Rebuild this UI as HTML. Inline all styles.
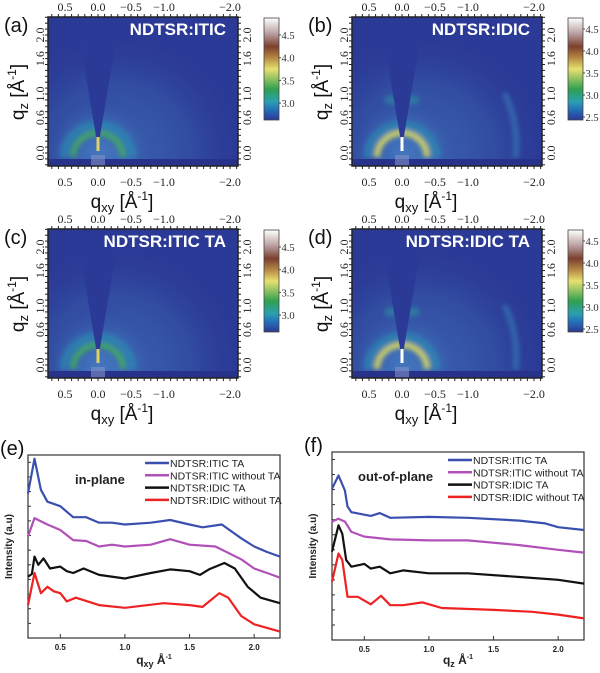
<!DOCTYPE html>
<html><head><meta charset="utf-8">
<style>
body{margin:0;background:#fff;width:600px;height:673px;overflow:hidden}
svg{display:block}
text{font-family:"Liberation Sans",sans-serif}
.ser{font-family:"Liberation Serif",serif}
</style></head>
<body>
<svg id="fig" width="600" height="673" viewBox="0 0 600 673" xmlns="http://www.w3.org/2000/svg">
<defs>
<linearGradient id="cb" x1="0" y1="1" x2="0" y2="0">
<stop offset="0" stop-color="#2b3896"/><stop offset="0.1" stop-color="#2470b8"/><stop offset="0.18" stop-color="#2aa0b0"/>
<stop offset="0.3" stop-color="#2fa050"/><stop offset="0.5" stop-color="#e8e070"/><stop offset="0.62" stop-color="#b08040"/>
<stop offset="0.72" stop-color="#7a4030"/><stop offset="0.86" stop-color="#c0a8a8"/><stop offset="1" stop-color="#ffffff"/>
</linearGradient>
<radialGradient id="halo" cx="0.5" cy="0.5" r="0.5">
<stop offset="0" stop-color="#4a86c8" stop-opacity="0.6"/><stop offset="0.6" stop-color="#3d6cb6" stop-opacity="0.35"/><stop offset="1" stop-color="#2b3a96" stop-opacity="0"/>
</radialGradient>
<filter id="blur" x="-20%" y="-20%" width="140%" height="140%"><feGaussianBlur stdDeviation="2.5"/></filter>
</defs>
</svg>
<script>
// ---- line chart data (e: in-plane, f: out-of-plane) ----
const xTicks = [0.5, 1.0, 1.5, 2.0];
const xTickLabels = ["0.5", "1.0", "1.5", "2.0"];
const seriesNames = ["NDTSR:ITIC TA", "NDTSR:ITIC without TA", "NDTSR:IDIC TA", "NDTSR:IDIC without TA"];
const seriesColors = ["#3a4fb0", "#b050b8", "#111111", "#ee2222"];
const eBlueX = [0.25,0.3,0.35,0.4,0.5,0.6,0.7,0.8,0.9,1.0,1.2,1.35,1.5,1.6,1.75,1.9,2.0,2.1,2.2];
const eBlueY = [7.9,9.8,8.1,7.45,7.2,6.6,6.6,6.3,6.3,6.2,6.3,6.45,6.2,6.05,6.2,5.45,5.0,4.7,4.45];
const eMagX = [0.25,0.3,0.4,0.5,0.6,0.7,0.8,0.9,1.0,1.2,1.35,1.5,1.7,1.9,2.0,2.1,2.2];
const eMagY = [5.55,6.55,6.2,5.9,5.35,5.3,5.0,5.1,5.0,5.1,5.4,5.1,5.0,4.3,3.8,3.55,3.3];
const eBlkX = [0.25,0.28,0.3,0.33,0.37,0.42,0.5,0.55,0.6,0.68,0.8,1.0,1.2,1.35,1.5,1.58,1.65,1.77,1.85,1.95,2.05,2.2];
const eBlkY = [3.35,3.5,4.45,4.0,4.35,3.8,3.9,3.65,3.55,3.8,3.45,3.25,3.55,3.75,3.65,3.45,3.75,4.1,3.8,2.8,2.2,1.9];
const eRedX = [0.25,0.3,0.35,0.4,0.45,0.5,0.55,0.62,0.8,1.0,1.3,1.5,1.6,1.73,1.8,1.9,2.0,2.2];
const eRedY = [1.8,3.55,2.45,2.8,2.55,2.45,2.0,2.2,1.8,1.65,1.9,1.8,1.7,2.45,2.2,1.2,0.75,0.35];
const fBlueX = [0.25,0.3,0.35,0.37,0.4,0.55,0.62,0.7,1.0,1.3,1.7,1.9,2.0,2.2];
const fBlueY = [8.05,8.75,7.95,7.1,6.8,6.6,6.75,6.5,6.55,6.5,6.35,6.2,6.0,5.85];
const fMagX = [0.25,0.3,0.35,0.4,0.5,0.7,1.0,1.3,1.7,2.0,2.2];
const fMagY = [6.3,6.45,6.3,5.75,5.5,5.35,5.3,5.3,5.05,4.8,4.65];
const fBlkX = [0.25,0.3,0.33,0.36,0.4,0.5,0.55,0.62,0.7,0.8,1.0,1.3,1.7,2.0,2.2];
const fBlkY = [4.7,6.1,5.65,4.25,3.9,4.05,3.8,3.9,3.55,3.7,3.55,3.55,3.35,3.2,3.0];
const fRedX = [0.25,0.3,0.33,0.37,0.45,0.55,0.63,0.7,0.8,0.95,1.1,1.5,1.8,2.0,2.2];
const fRedY = [3.1,4.6,4.25,2.3,2.3,1.9,2.35,1.85,1.85,2.0,1.7,1.6,1.5,1.35,1.15];

const NS = "http://www.w3.org/2000/svg";
const fig = document.getElementById('fig');
function el(tag, attrs, parent, txt){
  const e = document.createElementNS(NS, tag);
  for (const k in attrs) e.setAttribute(k, attrs[k]);
  if (txt !== undefined) e.textContent = txt;
  (parent || fig).appendChild(e);
  return e;
}

// ---- 2D GIWAXS panels ----
const panels = [
  {dx:0, dy:0, lab:"(a)", title:"NDTSR:ITIC", cb:["4.5","4.0","3.5","3.0"], strong:false, ring2:false},
  {dx:304, dy:0, lab:"(b)", title:"NDTSR:IDIC", cb:["4.5","4.0","3.5","3.0","2.5"], strong:true, ring2:true},
  {dx:0, dy:212, lab:"(c)", title:"NDTSR:ITIC TA", cb:["4.5","4.0","3.5","3.0"], strong:false, ring2:false},
  {dx:304, dy:212, lab:"(d)", title:"NDTSR:IDIC TA", cb:["4.5","4.0","3.5","3.0","2.5"], strong:true, ring2:true}
];
const qxTicks = [0.5, 0.0, -0.5, -1.0, -2.0];
const qxLabels = ["0.5","0.0","−0.5","−1.0","−2.0"];
const qzTicks = [0.0, 0.6, 1.0, 1.6, 2.0];
const qzLabels = ["0.0","0.6","1.0","1.6","2.0"];
panels.forEach((p, i) => {
  const g = el('g', {transform:`translate(${p.dx},${p.dy})`});
  
  
  const X0 = 48, X1 = 238, Y0 = 17, Y1 = 166, ox = 98, oy = 153, sx = 66, sz = 59;
  const qx = q => ox - q*sx, qz = q => oy - q*sz;
  const clip = el('clipPath', {id:'clp'+i}, g);
  el('rect', {x:X0, y:Y0, width:X1-X0, height:Y1-Y0}, clip);
  const img = el('g', {'clip-path':`url(#clp${i})`}, g);
  el('rect', {x:X0, y:Y0, width:X1-X0, height:Y1-Y0, fill:'#2b3a96'}, img);
  el('ellipse', {cx:ox+20, cy:oy, rx:125, ry:120, fill:'url(#halo)'}, img);
  el('ellipse', {cx:ox, cy:oy, rx:60, ry:60, fill:'url(#halo)'}, img);
  const rg = el('g', {filter:'url(#blur)'}, img);
  el('path', {d:`M${ox-34},${oy+4} A34,32 0 0 1 ${ox+34},${oy+4}`, fill:'none', stroke:'#2a90b0', 'stroke-width':9, opacity:0.6}, rg);
  el('path', {d:`M${ox-25},${oy+4} A25,24 0 0 1 ${ox+25},${oy+4}`, fill:'none', stroke: p.strong ? '#d8d860' : '#40a860', 'stroke-width':6, opacity:0.9}, rg);
  if (p.ring2){
    el('path', {d:`M${qx(-1.72)},${oy+5} A116,116 0 0 0 ${qx(-1.55)},${oy-60}`, fill:'none', stroke:'#3a8cc0', 'stroke-width':6, opacity:0.5}, rg);
    el('ellipse', {cx:ox-10, cy:qz(0.9), rx:8, ry:5, fill:'#2a9aa0', opacity:0.5}, rg);
    el('ellipse', {cx:ox+10, cy:qz(0.9), rx:8, ry:5, fill:'#2a9aa0', opacity:0.5}, rg);
  }
  el('polygon', {points:`${ox},${oy-5} ${ox-22},${Y0} ${ox+22},${Y0}`, fill:'#2b3a96'}, img);
  el('rect', {x:ox-1.5, y:oy-16, width:3, height:14, fill: p.strong ? '#ffffff' : '#e0d060'}, img);
  el('rect', {x:X0, y:159, width:X1-X0, height:7, fill:'#27338a'}, img);
  el('rect', {x:ox-7, y:155, width:14, height:11, fill:'#8090c8', opacity:0.6}, img);
  el('rect', {x:X0, y:Y0, width:X1-X0, height:Y1-Y0, fill:'none', stroke:'#222', 'stroke-width':1.5}, g);
  // ticks
  for (let q=-2.1; q<=0.75; q+=0.1){
    const x = qx(q);
    el('line', {x1:x, y1:Y0, x2:x, y2:Y0-3, stroke:'#222'}, g);
    el('line', {x1:x, y1:Y1, x2:x, y2:Y1+3, stroke:'#222'}, g);
  }
  for (let q=-0.2; q<=2.4; q+=0.1){
    const y = qz(q);
    if (y < Y0) continue;
    el('line', {x1:X0, y1:y, x2:X0-3, y2:y, stroke:'#222'}, g);
    el('line', {x1:X1, y1:y, x2:X1+3, y2:y, stroke:'#222'}, g);
  }
  qxTicks.forEach((q, k) => {
    const t1 = el('text', {x:qx(q), y:11, 'text-anchor':'middle', 'font-size':12, class:'ser', fill:'#222'}, g, qxLabels[k]);
    
    
    const t2 = el('text', {x:qx(q), y:186, 'text-anchor':'middle', 'font-size':12, class:'ser', fill:'#222'}, g, qxLabels[k]);
    
    
  });
  qzTicks.forEach((q, k) => {
    const y = qz(q);
    const t1 = el('text', {x:0, y:0, transform:`translate(44,${y}) rotate(-90)`, 'text-anchor':'middle', 'font-size':12, class:'ser', fill:'#222'}, g, qzLabels[k]);
    
    
    const t2 = el('text', {x:0, y:0, transform:`translate(251,${y}) rotate(-90)`, 'text-anchor':'middle', 'font-size':12, class:'ser', fill:'#222'}, g, qzLabels[k]);
    
    
  });
  const lab = el('text', {x:4, y:32, 'font-size':20, fill:'#111'}, g, p.lab);
  
  
  const tt = el('text', {x:226, y:35, 'text-anchor':'end', 'font-size':17, 'font-weight':'bold', fill:'#fff'}, g, p.title);
  
  
  const xl = el('text', {x:122, y:208, 'text-anchor':'middle', 'font-size':19, fill:'#111'}, g);
  
  
  xl.innerHTML = 'q<tspan font-size="13" dy="4">xy</tspan><tspan dy="-4"> [Å</tspan><tspan font-size="12" dy="-8">-1</tspan><tspan dy="8">]</tspan>';
  const yl = el('text', {transform:'translate(24,92) rotate(-90)', 'text-anchor':'middle', 'font-size':19, fill:'#111'}, g);
  
  
  yl.innerHTML = 'q<tspan font-size="13" dy="4">z</tspan><tspan dy="-4"> [Å</tspan><tspan font-size="12" dy="-8">-1</tspan><tspan dy="8">]</tspan>';
  // colorbar
  const cb = el('rect', {x:264, y:18, width:15, height:102, fill:'url(#cb)', stroke:'#444', 'stroke-width':0.8}, g);
  
  
  const n = p.cb.length;
  p.cb.forEach((v, k) => {
    const y = n === 4 ? 35 + k*22.7 : 29 + k*22;
    el('line', {x1:279, y1:y, x2:281, y2:y, stroke:'#444'}, g);
    const t = el('text', {x:281.5, y:y+4, 'font-size':10.5, class:'ser', fill:'#333'}, g, v);
    
    
  });
});

// ---- line charts ----
function lineChart(cfg){
  const g = el('g', {});
  
  
  const xs = v => cfg.x0 + (v - 0.25)/(2.2 - 0.25)*(cfg.x1 - cfg.x0);
  const ys = v => cfg.y1 - v/10*(cfg.y1 - cfg.y0);
  el('rect', {x:cfg.x0, y:cfg.y0, width:cfg.x1-cfg.x0, height:cfg.y1-cfg.y0, fill:'none', stroke:'#333', 'stroke-width':1.2}, g);
  for (let k=0; k<=12; k++){ const y = cfg.y1 - k*(cfg.y1-cfg.y0)/12.5; el('line', {x1:cfg.x0, y1:y, x2:cfg.x0+3, y2:y, stroke:'#333'}, g); }
  xTicks.forEach((v, k) => {
    el('line', {x1:xs(v), y1:cfg.y1, x2:xs(v), y2:cfg.y1-4, stroke:'#333'}, g);
    const t = el('text', {x:xs(v), y:cfg.y1+12, 'text-anchor':'middle', 'font-size':8, 'font-weight':'bold', fill:'#222'}, g, xTickLabels[k]);
    
    
  });
  cfg.series.forEach((s, k) => {
    const d = s[0].map((x, j) => (j ? 'L' : 'M') + xs(x).toFixed(1) + ',' + ys(s[1][j]).toFixed(1)).join(' ');
    const path = el('path', {d:d, fill:'none', stroke:seriesColors[k], 'stroke-width':2.2, 'stroke-linejoin':'round'}, g);
    
    
  });
  seriesNames.forEach((nm, k) => {
    const y = cfg.y0 + 8 + k*12.3;
    el('line', {x1:cfg.lx, y1:y, x2:cfg.lx+24, y2:y, stroke:seriesColors[k], 'stroke-width':2.5}, g);
    const t = el('text', {x:cfg.lx+25, y:y+4, 'font-size':10.5, fill:'#222'}, g, nm);
    
    
  });
  const tag = el('text', {x:cfg.tx, y:cfg.y0+29, 'font-size':13, 'font-weight':'bold', fill:'#222'}, g, cfg.tag);
  
  
  const yl = el('text', {transform:`translate(${cfg.x0-16},${(cfg.y0+cfg.y1)/2}) rotate(-90)`, 'text-anchor':'middle', 'font-size':10, 'font-weight':'bold', fill:'#222'}, g, 'Intensity (a.u)');
  
  
  const xl = el('text', {x:(cfg.x0+cfg.x1)/2, y:664, 'text-anchor':'middle', 'font-size':12, 'font-weight':'bold', fill:'#222'}, g);
  
  
  xl.innerHTML = cfg.xl;
  const pl = el('text', {x:cfg.x0-28, y:cfg.y0+0, 'font-size':20, fill:'#111'}, g, cfg.lab);
  
  
}
lineChart({name:'in-plane-chart', x0:28, x1:280, y0:455, y1:638, lx:145, tx:75, tag:'in-plane', lab:'(e)',
  xl:'q<tspan font-size="9" dy="3">xy</tspan><tspan dy="-3"> Å</tspan><tspan font-size="7" dy="-5">-1</tspan>',
  series:[[eBlueX,eBlueY],[eMagX,eMagY],[eBlkX,eBlkY],[eRedX,eRedY]]});
lineChart({name:'out-of-plane-chart', x0:332, x1:584, y0:452, y1:640, lx:448, tx:358, tag:'out-of-plane', lab:'(f)',
  xl:'q<tspan font-size="9" dy="3">z</tspan><tspan dy="-3"> Å</tspan><tspan font-size="7" dy="-5">-1</tspan>',
  series:[[fBlueX,fBlueY],[fMagX,fMagY],[fBlkX,fBlkY],[fRedX,fRedY]]});
</script>
</body></html>
